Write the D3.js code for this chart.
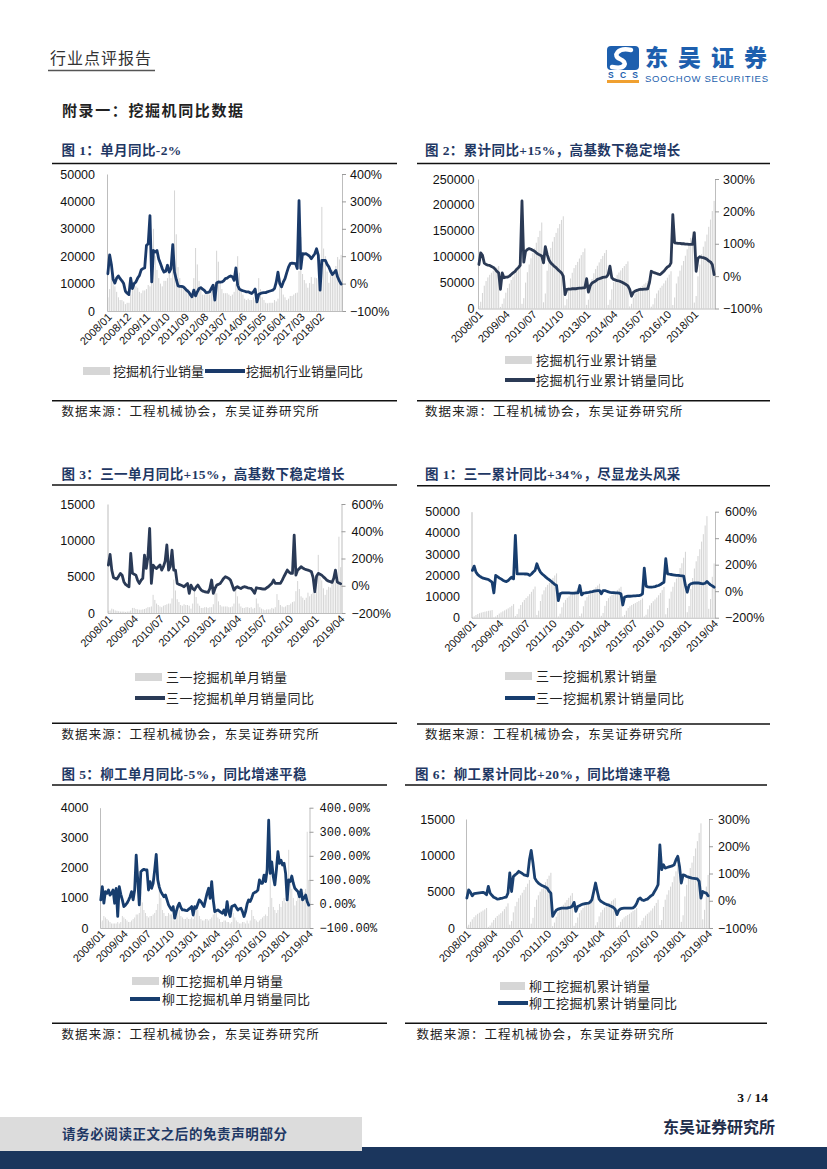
<!DOCTYPE html>
<html><head><meta charset="utf-8">
<script src="https://cdn.jsdelivr.net/npm/d3@7/dist/d3.min.js"></script>
<style>body{margin:0;background:#fff}svg{display:block}</style>
</head><body>
<svg id="page" width="827" height="1169"></svg>
<script>
// ---------- DATA ----------
// Chart 1: industry monthly sales (thousand units) & YoY (%), 2008/01-2019/02
const c1Sales = [
 5,8,17,14,9,7,5,4,4,3.5,2.5,3,
 3,6,10.5,11,9,8.5,7,6.5,7.5,7.5,8,9.5,
 9,11,30,20,15,12,10,9,11,11,12,16,
 12,17,44,28,16,12,9,8,9,8,8,7,
 6,12,23,17,11,9,6,6,6.5,6.5,6,7,
 7,10,22,18,11,8,6.5,6.5,6.5,6,5.5,6,
 7,10,20,14,8,6,4.5,4,4.5,4,4,5,
 4,5,12,8,5,4,3,2.8,3,3,3,4,
 3.5,4.5,12,9,6,5,4,4.5,5.5,5.5,6,6.5,
 6.7,14.6,27,13.5,11.3,10.1,8.5,10.2,12.4,9.9,12.2,12,
 11.4,12.7,38,22.8,20,14.4,10.3,13.1,15,14,16.4,19.7,
 18.8,20.5];
const c1Yoy = [
 36,105,70,15,2,20,28,18,10,0,-28,-35,
 -40,20,-18,0,6,20,30,50,55,57,140,145,
 248,6,121,115,121,90,73,55,42,45,67,42,
 55,142,42,15,-8,-10,-10,-12,-18,-25,-30,-40,
 -48,-24,-45,-30,-18,-15,-20,-25,-33,-32,-30,-18,
 -6,-60,2,6,5,6,10,18,20,25,28,25,
 12,57,-6,-20,-24,-26,-28,-30,-30,-33,-36,-30,
 -20,-67,-40,-36,-34,-33,-33,-30,-28,-26,-24,-18,
 5,42,0,-12,5,18,40,60,73,75,74,73,
 55,303,55,109,108,109,105,100,91,100,109,127,
 103,-24,85,85,85,70,61,45,33,40,48,24,
 10,-2];
const c1XTicks = ["2008/01","2008/12","2009/11","2010/10","2011/09","2012/08","2013/07","2014/06","2015/05","2016/04","2017/03","2018/02"];

// Chart 2: industry cumulative sales (thousand) & cumulative YoY (%), 2008/01-2018/12
const c2Cum = [
 5,13,30,44,53,60,65,69,73,76.5,79,82,
 3,9,19.5,30.5,39.5,48,55,61.5,69,76.5,84.5,94,
 9,20,50,70,85,97,107,116,127,138,150,166,
 12,29,73,101,117,129,138,146,155,163,171,178,
 6,18,41,58,69,78,84,90,96.5,103,109,116,
 7,17,39,57,68,76,82.5,89,95.5,101.5,107,113,
 7,17,37,51,59,65,69.5,73.5,78,82,86,91,
 4,9,21,29,34,38,41,43.8,46.8,49.8,52.8,56.8,
 3.5,8,20,29,35,40,44,48.5,54,59.5,65.5,72,
 6.7,21.3,48.3,61.8,73.1,83.2,91.7,101.9,114.3,124.2,136.4,148.4,
 11.4,24.1,62.1,84.9,104.9,119.3,129.6,142.7,157.7,171.7,188.1,207.8];
const c2Yoy = [
 36,72,64,40,36,34,33,30,27,22,15,10,
 -41,10,-5,-3,-3,0,5,10,14,21,26,33,
 232,43,77,82,85,83,80,77,72,68,65,62,
 41,91,67,50,41,36,30,26,20,15,10,0,
 -57,-41,-40,-40,-39,-39,-39,-38,-37,-37,-36,-36,
 -8,-49,-30,-21,-18,-15,-10,-8,-6,-4,-3,-2,
 5,31,-5,-10,-12,-14,-15,-17,-20,-23,-26,-30,
 -41,-62,-50,-46,-44,-42,-41,-41,-40,-40,-39,-20,
 15,12,10,8,6,5,10,15,22,28,31,41,
 190,103,102,101,101,100,100,99,99,98,98,98,
 134,15,55,60,58,57,55,52,47,44,36,5];
const c2XTicks = ["2008/01","2009/04","2010/07","2011/10","2013/01","2014/04","2015/07","2016/10","2018/01"];

// Chart 3: Sany monthly sales (thousand) & YoY (%), 2008/01-2019/04
const c3Sales = [
 0.3,0.35,0.6,0.5,0.35,0.3,0.25,0.2,0.2,0.2,0.15,0.2,
 0.2,0.35,0.7,0.7,0.55,0.5,0.45,0.45,0.5,0.55,0.65,0.8,
 0.8,0.9,2.5,1.8,1.3,1.1,0.9,0.8,1.0,1.1,1.2,1.3,
 1.3,2.0,4.6,3.1,1.9,1.5,1.1,1.0,1.2,1.1,1.1,1.0,
 0.6,1.3,3.0,2.2,1.3,1.0,0.7,0.7,0.8,0.8,0.7,0.8,
 0.8,1.2,3.4,2.7,1.6,1.1,0.9,0.9,0.9,0.9,0.8,0.8,
 0.9,1.3,3.4,2.3,1.3,0.9,0.7,0.7,0.8,0.8,0.7,0.8,
 0.6,0.7,2.0,1.3,0.8,0.6,0.5,0.4,0.5,0.5,0.5,0.7,
 0.6,0.8,2.6,1.8,1.1,0.9,0.8,0.9,1.1,1.1,1.3,1.5,
 1.6,3.0,4.4,3.3,2.3,2.1,1.8,2.1,2.8,2.3,2.6,2.8,
 2.6,2.9,8.0,5.2,4.5,3.4,2.5,3.2,3.6,3.5,4.1,4.4,
 4.2,4.6,10.5,6.3];
const c3Yoy = [
 152,230,115,60,54,49,70,91,78,30,10,0,
 -7,238,91,85,78,40,17,40,54,225,127,213,
 421,17,152,135,127,140,152,115,140,180,299,115,
 140,262,115,115,17,10,5,0,-7,5,17,-56,
 5,-20,-32,-10,5,-15,-32,-40,-44,-46,-49,-20,
 42,-56,-20,5,10,17,35,54,66,60,54,40,
 5,-32,-15,-7,-15,-20,-12,-7,-10,-15,-18,-20,
 -35,-56,-15,-18,-20,-22,-24,-25,-15,-7,5,17,
 42,17,18,17,17,40,66,90,115,100,91,91,
 372,78,115,125,140,130,123,118,115,110,103,60,
 -44,70,91,85,78,65,54,40,34,30,25,54,
 115,29,20,15];
const xTicks136 = ["2008/01","2009/04","2010/07","2011/10","2013/01","2014/04","2015/07","2016/10","2018/01","2019/04"];

// Chart 4: Sany cumulative sales (thousand) & cumulative YoY (%)
const c4Cum = [
 0.3,0.65,1.25,1.75,2.1,2.4,2.65,2.85,3.05,3.25,3.4,3.6,
 0.2,0.55,1.25,1.95,2.5,3.0,3.45,3.9,4.4,4.95,5.6,6.4,
 0.8,1.7,4.2,6.0,7.3,8.4,9.3,10.1,11.1,12.2,13.4,14.7,
 1.3,3.3,7.9,11.0,12.9,14.4,15.5,16.5,17.7,18.8,19.9,20.9,
 0.6,1.9,4.9,7.1,8.4,9.4,10.1,10.8,11.6,12.4,13.1,13.9,
 0.8,2.0,5.4,8.1,9.7,10.8,11.7,12.6,13.5,14.4,15.2,16.0,
 0.9,2.2,5.6,7.9,9.2,10.1,10.8,11.5,12.3,13.1,13.8,14.6,
 0.6,1.3,3.3,4.6,5.4,6.0,6.5,6.9,7.4,7.9,8.4,9.1,
 0.6,1.4,4.0,5.8,6.9,7.8,8.6,9.5,10.6,11.7,13.0,14.5,
 1.6,4.6,9.0,12.3,14.6,16.7,18.5,20.6,23.4,25.7,28.3,31.1,
 2.6,5.5,13.5,18.7,23.2,26.6,29.1,32.3,35.9,39.4,43.5,47.9,
 4.2,8.8,19.3,25.6];
const c4Yoy = [
 157,189,144,125,114,105,98,95,92,88,78,68,
 -13,119,110,100,93,83,76,73,81,95,106,93,
 422,131,131,131,131,130,130,128,119,130,145,157,
 207,170,144,130,118,106,95,85,75,62,52,43,
 -71,-20,-13,-13,-13,-13,-13,-14,-14,-14,-13,-13,
 43,-28,-15,-13,-10,-8,-5,-3,0,3,5,5,
 -20,5,5,0,-5,-8,-10,-11,-12,-13,-15,-20,
 -104,-45,-40,-38,-38,-37,-36,-35,-34,-33,-30,-20,
 174,38,33,31,30,32,35,40,43,50,60,68,
 245,131,128,126,124,122,120,119,117,116,114,43,
 -8,45,56,60,62,63,62,60,58,56,60,73,
 60,48,40,30];

// Chart 5: Liugong monthly sales (thousand) & YoY (%)
const c5Sales = [
 0.2,0.25,0.4,0.35,0.3,0.25,0.2,0.15,0.15,0.15,0.15,0.2,
 0.15,0.2,0.4,0.35,0.3,0.25,0.2,0.2,0.25,0.3,0.35,0.45,
 0.45,0.5,1.2,0.85,0.6,0.5,0.4,0.35,0.4,0.4,0.45,0.5,
 0.6,0.8,1.5,1.0,0.6,0.5,0.4,0.4,0.5,0.45,0.45,0.4,
 0.25,0.5,0.8,0.6,0.4,0.35,0.3,0.3,0.35,0.3,0.3,0.35,
 0.3,0.4,0.75,0.6,0.4,0.3,0.25,0.25,0.3,0.3,0.25,0.3,
 0.35,0.45,0.8,0.55,0.35,0.3,0.2,0.2,0.25,0.25,0.2,0.2,
 0.15,0.2,0.5,0.35,0.25,0.2,0.15,0.15,0.2,0.2,0.15,0.25,
 0.15,0.25,0.6,0.4,0.3,0.25,0.2,0.25,0.3,0.35,0.4,0.45,
 0.4,0.7,1.8,1.0,0.7,0.6,0.5,0.6,0.8,0.7,0.9,1.0,
 0.85,0.9,2.6,1.6,1.3,1.0,0.75,0.9,1.05,1.0,1.15,1.3,
 1.2,1.3,3.2,1.6];
const c5Yoy = [
 17,72,3,51,44,58,37,45,58,3,65,-52,
 72,40,17,-11,-5,3,15,30,51,17,58,203,
 100,-4,134,140,144,141,141,58,93,65,86,141,
 206,100,70,51,40,30,37,17,-4,-15,-25,-11,
 -59,-32,-10,3,-15,-25,-25,-27,-28,-22,-18,-11,
 -46,-11,-18,0,17,10,0,-11,17,44,65,23,
 93,17,-32,-28,-25,-30,-35,-39,-25,-46,10,-32,
 -52,-11,-8,-4,-15,-25,-20,-18,-32,-52,-32,0,
 17,10,25,44,48,51,58,100,86,86,120,93,
 141,348,127,175,113,79,141,217,169,182,162,169,
 127,17,100,93,116,86,65,58,51,30,58,17,
 25,37,10,-5];

// Chart 6: Liugong cumulative sales (thousand) & cumulative YoY (%)
const c6Cum = [
 0.2,0.45,0.85,1.2,1.5,1.75,1.95,2.1,2.25,2.4,2.55,2.75,
 0.15,0.35,0.75,1.1,1.4,1.65,1.85,2.05,2.3,2.6,2.95,3.4,
 0.45,0.95,2.15,3.0,3.6,4.1,4.5,4.85,5.25,5.65,6.1,6.6,
 0.6,1.4,2.9,3.9,4.5,5.0,5.4,5.8,6.3,6.75,7.2,7.6,
 0.25,0.75,1.55,2.15,2.55,2.9,3.2,3.5,3.85,4.15,4.45,4.8,
 0.3,0.7,1.45,2.05,2.45,2.75,3.0,3.25,3.55,3.85,4.1,4.4,
 0.35,0.8,1.6,2.15,2.5,2.8,3.0,3.2,3.45,3.7,3.9,4.1,
 0.15,0.35,0.85,1.2,1.45,1.65,1.8,1.95,2.15,2.35,2.5,2.75,
 0.15,0.4,1.0,1.4,1.7,1.95,2.15,2.4,2.7,3.05,3.45,3.9,
 0.4,1.1,2.9,3.9,4.6,5.2,5.7,6.3,7.1,7.8,8.7,9.7,
 0.85,1.75,4.35,5.95,7.25,8.25,9.0,9.9,10.95,11.95,13.1,14.4,
 1.2,2.5,5.7,7.3];
const c6Yoy = [
 10,40,31,18,26,27,28,29,30,31,28,22,
 53,28,20,13,10,6,7,9,10,12,13,28,
 102,34,89,95,100,108,104,100,95,93,91,150,
 185,138,83,72,65,60,56,53,50,46,35,28,
 -57,-45,-35,-31,-29,-27,-27,-27,-27,-25,-24,-20,
 -6,-39,-21,-18,-15,-12,-11,-10,-9,-5,4,34,
 65,34,6,-2,-6,-10,-13,-15,-18,-21,-25,-31,
 -51,-35,-30,-28,-27,-27,-27,-27,-27,-26,-21,-10,
 6,10,3,1,4,6,12,18,22,34,45,59,
 205,114,132,120,122,124,126,128,132,150,163,126,
 65,95,93,89,87,85,83,82,81,80,71,10,
 34,30,28,18];

// Axis tick values / labels
const tk50k = [0,10,20,30,40,50], tk50kLab = ["0","10000","20000","30000","40000","50000"];
const tk250k = [0,50,100,150,200,250], tk250kLab = ["0","50000","100000","150000","200000","250000"];
const tk15k = [0,5,10,15], tk15kLab = ["0","5000","10000","15000"];
const tk4k = [0,1,2,3,4], tk4kLab = ["0","1000","2000","3000","4000"];
const pM100to400 = [-100,0,100,200,300,400], pM100to400Lab = ["−100%","0%","100%","200%","300%","400%"];
const pM100to300 = [-100,0,100,200,300], pM100to300Lab = ["−100%","0%","100%","200%","300%"];
const pM200to600 = [-200,0,200,400,600], pM200to600Lab = ["−200%","0%","200%","400%","600%"];
const pDec = [-100,0,100,200,300,400], pDecLab = ["−100.00%","0.00%","100.00%","200.00%","300.00%","400.00%"];

// ---------- DRAW ----------
const svg = d3.select('#page');
const CJK = '"Noto Sans CJK SC","Noto Sans",sans-serif';
const LAT = '"Liberation Sans",Arial,sans-serif';
const TITLEF = '"Liberation Serif","Noto Sans CJK SC",serif';
const SRC = '数据来源：工程机械协会，东吴证券研究所';

function monthCats(n){const a=[];for(let i=0;i<n;i++){a.push((2008+Math.floor(i/12))+'/'+String(i%12+1).padStart(2,'0'));}return a;}

// Header
svg.append('text').attr('x',50).attr('y',64).attr('font-family',CJK).attr('font-size',16).attr('letter-spacing',1)
  .attr('fill','#333').text('行业点评报告');
svg.append('line').attr('x1',48).attr('x2',155).attr('y1',70.5).attr('y2',70.5).attr('stroke','#555').attr('stroke-width',1.6);
// Logo
const lg = svg.append('g');
lg.append('rect').attr('x',607).attr('y',46).attr('width',32).attr('height',24).attr('rx',4).attr('fill','#1d5fae');
lg.append('path').attr('d','M631,50 C618,47 612,56 620,59 C628,62 626,70 612,67').attr('fill','none').attr('stroke','#fff').attr('stroke-width',4.5).attr('stroke-linecap','round');
lg.append('text').attr('x',623).attr('y',78).attr('text-anchor','middle').attr('font-family',LAT).attr('font-weight',700).attr('font-size',8.5).attr('fill','#1d5fae').attr('textLength',30).text('SCS');
lg.append('rect').attr('x',607).attr('y',80).attr('width',32).attr('height',3).attr('fill','#f0a030');
lg.append('text').attr('x',645).attr('y',66).attr('font-family',CJK).attr('font-weight',900).attr('font-size',23).attr('fill','#1d5fae').attr('textLength',122).text('东吴证券');
lg.append('text').attr('x',645).attr('y',81.5).attr('font-family',LAT).attr('font-size',9.5).attr('fill','#1d5fae').attr('textLength',123).text('SOOCHOW SECURITIES');

svg.append('text').attr('x',62).attr('y',116).attr('font-family',CJK).attr('font-weight',700).attr('font-size',15)
  .attr('letter-spacing',1.6).attr('fill','#222').text('附录一：挖掘机同比数据');

function drawChart(o){
  const g = svg.append('g');
  g.append('text').attr('x',o.tx).attr('y',o.ty).attr('font-family',TITLEF).attr('font-weight',700)
    .attr('font-size',13.5).attr('fill','#1f3864').attr('letter-spacing',0.4).text(o.title);
  g.append('line').attr('x1',o.rule[0]).attr('x2',o.rule[1]).attr('y1',o.rule[2]).attr('y2',o.rule[2]).attr('stroke','#111').attr('stroke-width',1.5);
  g.append('line').attr('x1',o.srule[0]).attr('x2',o.srule[1]).attr('y1',o.srule[2]).attr('y2',o.srule[2]).attr('stroke','#111').attr('stroke-width',1.5);
  g.append('text').attr('x',o.src[0]).attr('y',o.src[1]).attr('font-family',CJK).attr('font-size',12.5)
    .attr('letter-spacing',1.1).attr('fill','#222').text(SRC);

  const cats = monthCats(o.bars.length);
  const x = d3.scaleBand().domain(cats).range([o.x0,o.x1]).paddingInner(0.4).paddingOuter(0.2);
  const yL = d3.scaleLinear().domain(o.lDom).range([o.y1,o.y0]);
  const yR = d3.scaleLinear().domain(o.rDom).range([o.y1,o.y0]);
  const bw = x.bandwidth();

  g.append('g').selectAll('rect').data(o.bars).join('rect')
    .attr('x',(d,i)=>x(cats[i])).attr('width',bw)
    .attr('y',d=>yL(d)).attr('height',d=>yL(0)-yL(d)).attr('fill','#d6d6d6');

  // axes
  const fmtL = d=>o.lLab[o.lTicks.indexOf(d)];
  const fmtR = d=>o.rLab[o.rTicks.indexOf(d)];
  const ax = g.append('g').attr('transform',`translate(${o.x0},0)`)
    .call(d3.axisLeft(yL).tickValues(o.lTicks).tickFormat(fmtL).tickSize(0).tickSizeOuter(0).tickPadding(o.lPad));
  const ar = g.append('g').attr('transform',`translate(${o.x1},0)`)
    .call(d3.axisRight(yR).tickValues(o.rTicks).tickFormat(fmtR).tickSize(4).tickSizeOuter(0).tickPadding(o.rPad));
  const ab = g.append('g').attr('transform',`translate(0,${o.y1})`)
    .call(d3.axisBottom(x).tickValues(o.xTicks).tickSize(0).tickSizeOuter(0));
  [ax,ar,ab].forEach(a=>{a.select('.domain').attr('stroke','#bdbdbd').attr('stroke-width',1);
    a.selectAll('.tick line').attr('stroke','#9a9a9a');
    a.selectAll('text').attr('font-family',LAT).attr('font-size',12.5).attr('fill','#111');});
  if(o.rFont) ar.selectAll('text').attr('font-family',o.rFont).attr('font-size',12);
  ab.selectAll('.tick text').attr('text-anchor','end').attr('font-size',11)
    .attr('transform','translate(2,4) rotate(-45)').attr('dy','0.35em').attr('y',0).attr('x',0);

  const line = d3.line().x((d,i)=>x(cats[i])+bw/2).y(d=>yR(d)).curve(d3.curveLinear);
  g.append('path').datum(o.yoy).attr('d',line).attr('fill','none').attr('stroke',o.color)
    .attr('stroke-width',2.8).attr('stroke-linejoin','round').attr('stroke-linecap','round');

  // legend
  o.legend.forEach(l=>{
    if(l.type==='bar') g.append('rect').attr('x',l.x).attr('y',l.y-4).attr('width',l.w).attr('height',8).attr('fill','#d6d6d6');
    else g.append('line').attr('x1',l.x).attr('x2',l.x+l.w).attr('y1',l.y).attr('y2',l.y).attr('stroke',o.color).attr('stroke-width',4);
    g.append('text').attr('x',l.tx).attr('y',l.y).attr('dy','0.36em').attr('font-family',CJK).attr('font-size',13)
      .attr('letter-spacing',l.ls===undefined?0.5:l.ls).attr('fill','#222').text(l.label);
  });
}

drawChart({title:'图 1：单月同比-2%',tx:61.5,ty:155,rule:[52,397,163.5],srule:[52,397,400.7],src:[61.5,416],
  x0:107,x1:342,y0:174,y1:311,bars:c1Sales,yoy:c1Yoy,lDom:[0,50],lTicks:tk50k,lLab:tk50kLab,lPad:12,
  rDom:[-100,400],rTicks:pM100to400,rLab:pM100to400Lab,rPad:4,xTicks:c1XTicks,color:'#1a3a6a',
  legend:[{type:'bar',x:83,w:27,y:371,tx:113,label:'挖掘机行业销量',ls:0},{type:'line',x:205,w:40,y:371,tx:246,label:'挖掘机行业销量同比',ls:0}]});

drawChart({title:'图 2：累计同比+15%，高基数下稳定增长',tx:425,ty:155,rule:[417,770,163.5],srule:[417,770,400.7],src:[425,416],
  x0:478,x1:715,y0:179,y1:308.5,bars:c2Cum,yoy:c2Yoy,lDom:[0,250],lTicks:tk250k,lLab:tk250kLab,lPad:3.5,
  rDom:[-100,300],rTicks:pM100to300,rLab:pM100to300Lab,rPad:4,xTicks:c2XTicks,color:'#2b3a55',
  legend:[{type:'bar',x:505,w:27,y:360,tx:536,label:'挖掘机行业累计销量'},{type:'line',x:505,w:30,y:380,tx:536,label:'挖掘机行业累计销量同比'}]});

drawChart({title:'图 3：三一单月同比+15%，高基数下稳定增长',tx:61.5,ty:479,rule:[52,397,485],srule:[52,397,723.3],src:[61.5,739],
  x0:107.5,x1:341.5,y0:504,y1:613,bars:c3Sales,yoy:c3Yoy,lDom:[0,15],lTicks:tk15k,lLab:tk15kLab,lPad:12.5,
  rDom:[-200,600],rTicks:pM200to600,rLab:pM200to600Lab,rPad:6,xTicks:xTicks136,color:'#2a3a56',
  legend:[{type:'bar',x:135,w:27,y:677,tx:166,label:'三一挖掘机单月销量'},{type:'line',x:135,w:30,y:698,tx:166,label:'三一挖掘机单月销量同比'}]});

drawChart({title:'图 1：三一累计同比+34%，尽显龙头风采',tx:425,ty:479,rule:[417,770,485.7],srule:[417,770,724],src:[425,739],
  x0:471.5,x1:715,y0:511.7,y1:617.7,bars:c4Cum,yoy:c4Yoy,lDom:[0,50],lTicks:tk50k,lLab:tk50kLab,lPad:11.5,
  rDom:[-200,600],rTicks:pM200to600,rLab:pM200to600Lab,rPad:6,xTicks:xTicks136,color:'#173d6e',
  legend:[{type:'bar',x:505,w:27,y:676,tx:536,label:'三一挖掘机累计销量'},{type:'line',x:505,w:30,y:698,tx:536,label:'三一挖掘机累计销量同比'}]});

drawChart({title:'图 5：柳工单月同比-5%，同比增速平稳',tx:61.5,ty:779,rule:[52,387,785],srule:[52,387,1023.3],src:[61.5,1039],
  x0:100,x1:309.5,y0:807.7,y1:928,bars:c5Sales,yoy:c5Yoy,lDom:[0,4],lTicks:tk4k,lLab:tk4kLab,lPad:11.5,
  rDom:[-100,400],rTicks:pDec,rLab:pDecLab,rPad:6,rFont:'"Liberation Mono","DejaVu Sans Mono",monospace',xTicks:xTicks136,color:'#173d6e',
  legend:[{type:'bar',x:132,w:27,y:981,tx:162,label:'柳工挖掘机单月销量'},{type:'line',x:130,w:30,y:999,tx:162,label:'柳工挖掘机单月销量同比'}]});

drawChart({title:'图 6：柳工累计同比+20%，同比增速平稳',tx:415,ty:779,rule:[405,767,785],srule:[405,767,1023.3],src:[416.5,1039],
  x0:466,x1:709,y0:819,y1:928,bars:c6Cum,yoy:c6Yoy,lDom:[0,15],lTicks:tk15k,lLab:tk15kLab,lPad:11,
  rDom:[-100,300],rTicks:pM100to300,rLab:pM100to300Lab,rPad:5,xTicks:xTicks136,color:'#1a4070',
  legend:[{type:'bar',x:500,w:25,y:986,tx:529,label:'柳工挖掘机累计销量'},{type:'line',x:498,w:30,y:1003,tx:529,label:'柳工挖掘机累计销量同比'}]});

// Footer
svg.append('text').attr('x',768).attr('y',1102).attr('text-anchor','end').attr('font-family','"Liberation Serif",serif')
  .attr('font-weight',700).attr('font-size',13.5).attr('fill','#111').text('3 / 14');
svg.append('text').attr('x',775).attr('y',1133).attr('text-anchor','end').attr('font-family',CJK)
  .attr('font-weight',700).attr('font-size',16).attr('fill','#1f2d4a').text('东吴证券研究所');
svg.append('rect').attr('x',0).attr('y',1147).attr('width',827).attr('height',22).attr('fill','#1b365d');
svg.append('rect').attr('x',0).attr('y',1117).attr('width',362).attr('height',34).attr('fill','#dcdcdc');
svg.append('text').attr('x',62).attr('y',1139).attr('font-family',CJK).attr('font-weight',700).attr('font-size',13.5)
  .attr('fill','#1f3864').attr('letter-spacing',0.6).text('请务必阅读正文之后的免责声明部分');
</script>
</body></html>
